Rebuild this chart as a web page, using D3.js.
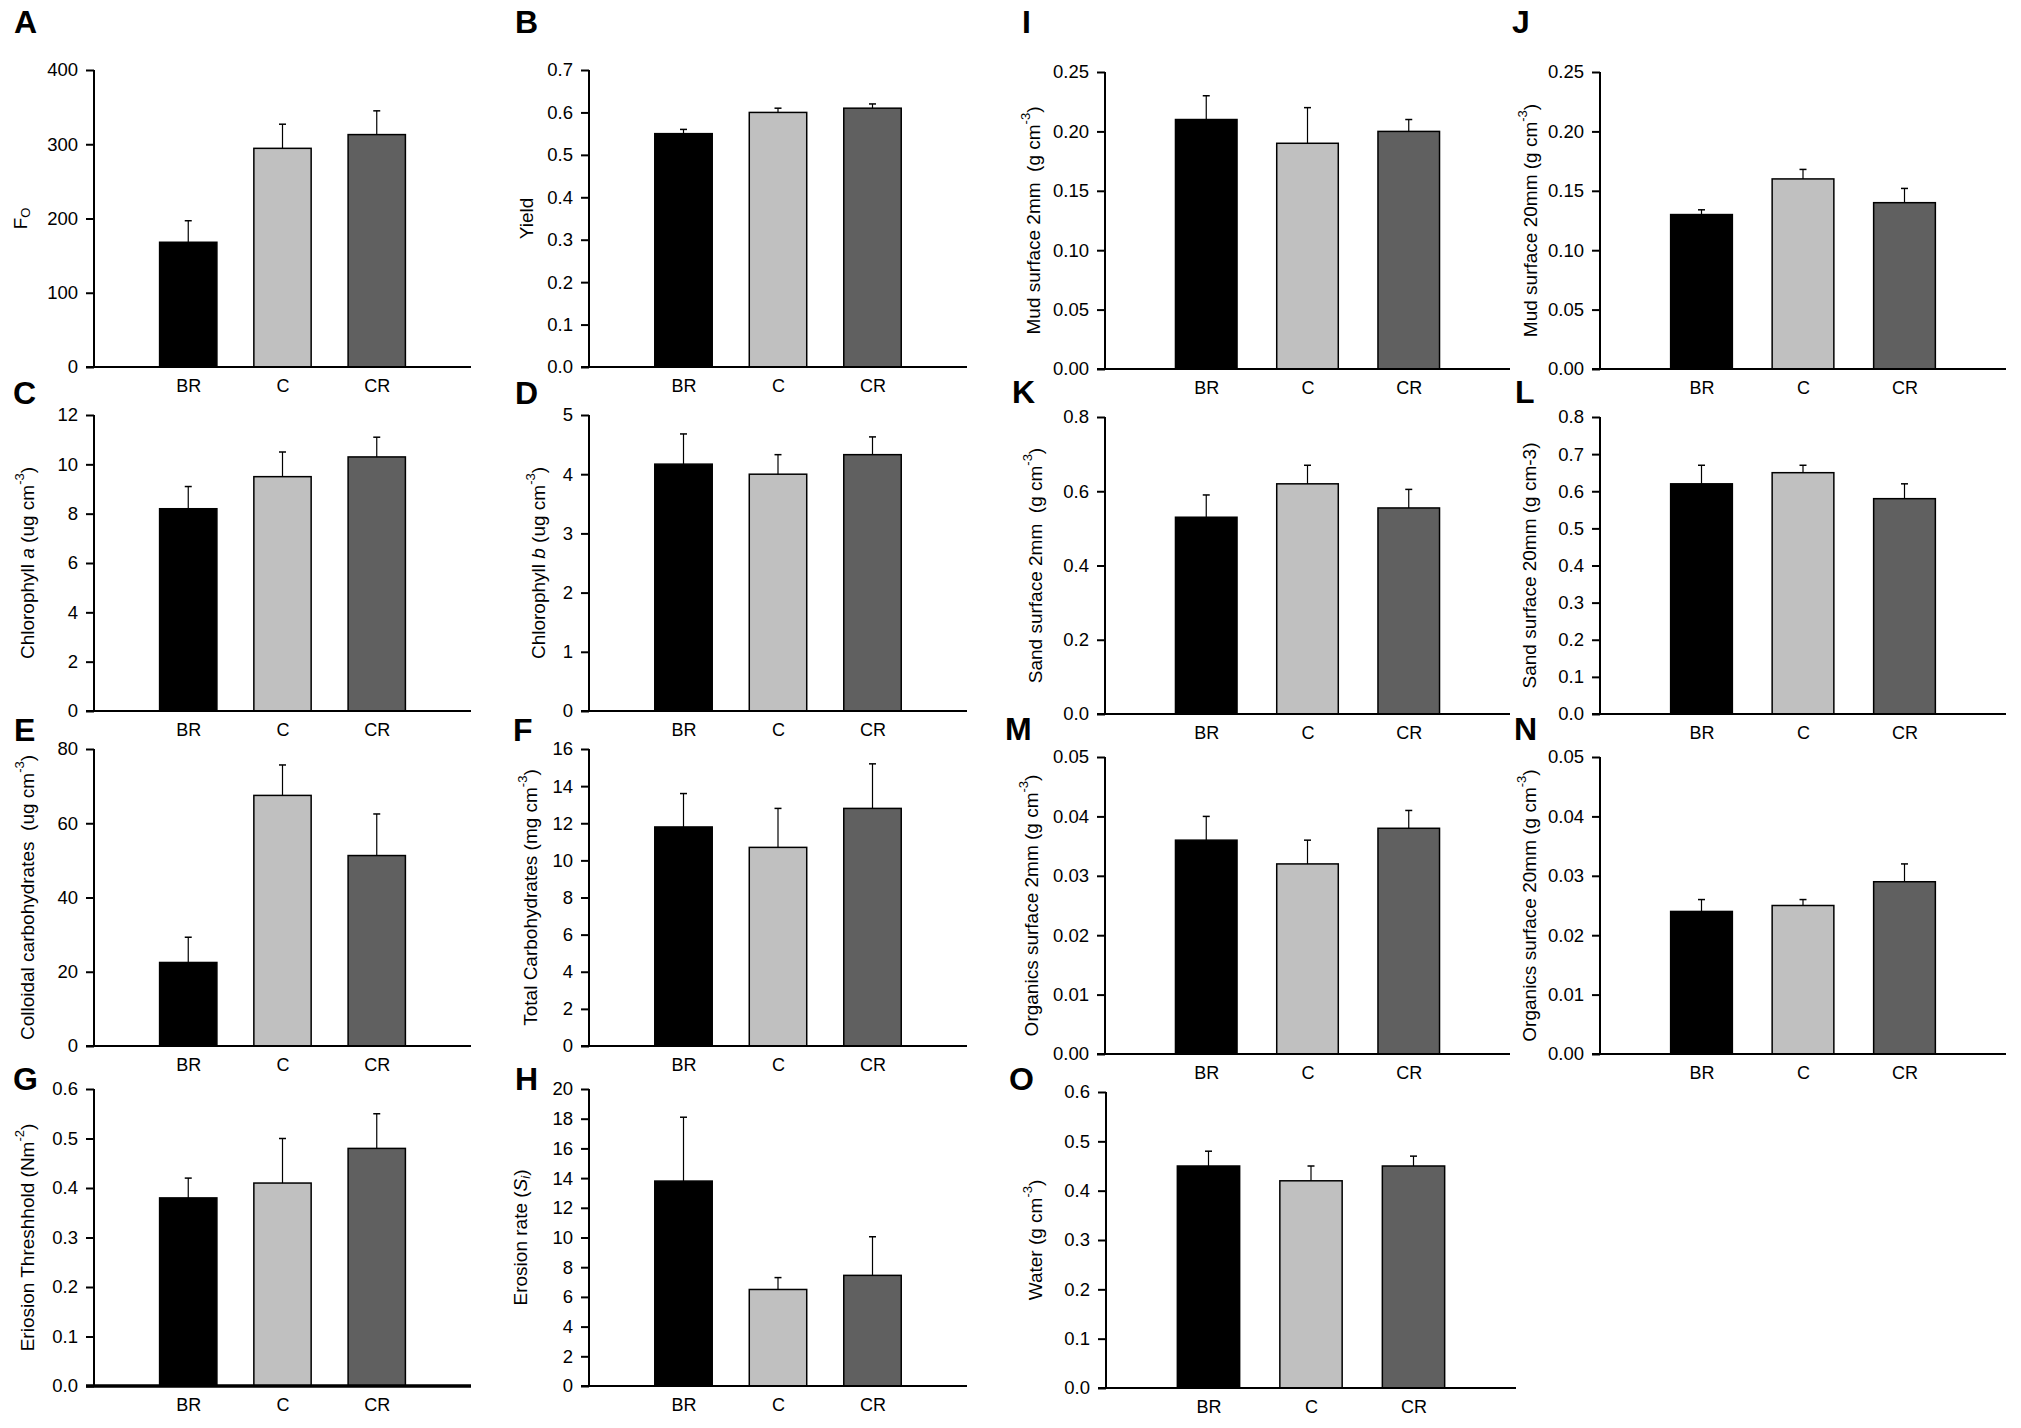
<!DOCTYPE html>
<html><head><meta charset="utf-8">
<script src="https://cdn.jsdelivr.net/npm/d3@7"></script>
<style>
html,body{margin:0;padding:0;background:#fff;}
text{font-family:"Liberation Sans",Arial,Helvetica,sans-serif;fill:#000;}
</style></head>
<body>
<svg id="fig" width="2021" height="1428"></svg>
<script>
// ---------- data ----------
const categories = ["BR", "C", "CR"];
const barColors = ["#000000", "#c0c0c0", "#606060"];

const foMean = [168, 294.5, 313];      const foSe = [29, 32.5, 32];
const yieldMean = [0.55, 0.60, 0.61];  const yieldSe = [0.01, 0.01, 0.01];
const chlaMean = [8.2, 9.5, 10.3];     const chlaSe = [0.9, 1.0, 0.8];
const chlbMean = [4.17, 4.0, 4.33];    const chlbSe = [0.51, 0.33, 0.30];
const collMean = [22.5, 67.5, 51.3];   const collSe = [6.8, 8.2, 11.2];
const totMean = [11.8, 10.7, 12.8];    const totSe = [1.8, 2.1, 2.4];
const thrMean = [0.38, 0.41, 0.48];    const thrSe = [0.04, 0.09, 0.07];
const eroMean = [13.8, 6.5, 7.45];     const eroSe = [4.3, 0.8, 2.6];
const mud2Mean = [0.21, 0.19, 0.20];   const mud2Se = [0.02, 0.03, 0.01];
const mud20Mean = [0.13, 0.16, 0.14];  const mud20Se = [0.004, 0.008, 0.012];
const sand2Mean = [0.53, 0.62, 0.555]; const sand2Se = [0.06, 0.05, 0.05];
const sand20Mean = [0.62, 0.65, 0.58]; const sand20Se = [0.05, 0.02, 0.04];
const org2Mean = [0.036, 0.032, 0.038];  const org2Se = [0.004, 0.004, 0.003];
const org20Mean = [0.024, 0.025, 0.029]; const org20Se = [0.002, 0.001, 0.003];
const waterMean = [0.45, 0.42, 0.45];  const waterSe = [0.03, 0.03, 0.02];

// tick values per panel
const ticksA = [0, 100, 200, 300, 400];
const ticksB = [0, 0.1, 0.2, 0.3, 0.4, 0.5, 0.6, 0.7];
const ticksC = [0, 2, 4, 6, 8, 10, 12];
const ticksD = [0, 1, 2, 3, 4, 5];
const ticksE = [0, 20, 40, 60, 80];
const ticksF = [0, 2, 4, 6, 8, 10, 12, 14, 16];
const ticksG = [0, 0.1, 0.2, 0.3, 0.4, 0.5, 0.6];
const ticksH = [0, 2, 4, 6, 8, 10, 12, 14, 16, 18, 20];
const ticksIJ = [0, 0.05, 0.10, 0.15, 0.20, 0.25];
const ticksK = [0, 0.2, 0.4, 0.6, 0.8];
const ticksL = [0, 0.1, 0.2, 0.3, 0.4, 0.5, 0.6, 0.7, 0.8];
const ticksMN = [0, 0.01, 0.02, 0.03, 0.04, 0.05];
const ticksO = [0, 0.1, 0.2, 0.3, 0.4, 0.5, 0.6];

// ---------- panel definitions ----------
const panels = [
  {L:"A", mean:foMean, se:foSe, ticks:ticksA, fmt:"d", title:[["F"],["O","sub"]]},
  {L:"B", mean:yieldMean, se:yieldSe, ticks:ticksB, fmt:".1f", title:[["Yield"]]},
  {L:"C", mean:chlaMean, se:chlaSe, ticks:ticksC, fmt:"d", title:[["Chlorophyll "],["a","i"],[" (ug cm"],["-3","sup"],[")"]]},
  {L:"D", mean:chlbMean, se:chlbSe, ticks:ticksD, fmt:"d", title:[["Chlorophyll "],["b","i"],[" (ug cm"],["-3","sup"],[")"]]},
  {L:"E", mean:collMean, se:collSe, ticks:ticksE, fmt:"d", title:[["Colloidal carbohydrates\u00a0 (ug cm"],["-3","sup"],[")"]]},
  {L:"F", mean:totMean, se:totSe, ticks:ticksF, fmt:"d", title:[["Total Carbohydrates (mg cm"],["-3","sup"],[")"]]},
  {L:"G", mean:thrMean, se:thrSe, ticks:ticksG, fmt:".1f", title:[["Eriosion Threshhold (Nm"],["-2","sup"],[")"]]},
  {L:"H", mean:eroMean, se:eroSe, ticks:ticksH, fmt:"d", title:[["Erosion rate ("],["S","i"],["i","isub"],[")"]]},
  {L:"I", mean:mud2Mean, se:mud2Se, ticks:ticksIJ, fmt:".2f", title:[["Mud surface 2mm\u00a0 (g cm"],["-3","sup"],[")"]]},
  {L:"J", mean:mud20Mean, se:mud20Se, ticks:ticksIJ, fmt:".2f", title:[["Mud surface 20mm (g cm"],["-3","sup"],[")"]]},
  {L:"K", mean:sand2Mean, se:sand2Se, ticks:ticksK, fmt:".1f", title:[["Sand surface 2mm\u00a0 (g cm"],["-3","sup"],[")"]]},
  {L:"L", mean:sand20Mean, se:sand20Se, ticks:ticksL, fmt:".1f", title:[["Sand surface 20mm (g cm-3)"]]},
  {L:"M", mean:org2Mean, se:org2Se, ticks:ticksMN, fmt:".2f", title:[["Organics surface 2mm (g cm"],["-3","sup"],[")"]]},
  {L:"N", mean:org20Mean, se:org20Se, ticks:ticksMN, fmt:".2f", title:[["Organics surface 20mm (g cm"],["-3","sup"],[")"]]},
  {L:"O", mean:waterMean, se:waterSe, ticks:ticksO, fmt:".1f", title:[["Water (g cm"],["-3","sup"],[")"]]}
];

// ---------- layout (pixels) ----------
const layout = {
  A:{x0:94, x1:471, y0:70, y1:367, lx:14, ly:33, toff:72},
  B:{x0:589, x1:967, y0:70, y1:367, lx:515, ly:33, toff:61},
  C:{x0:94, x1:471, y0:415, y1:711, lx:13, ly:404, toff:65},
  D:{x0:589, x1:967, y0:415, y1:711, lx:515, ly:404, toff:49},
  E:{x0:94, x1:471, y0:749, y1:1046, lx:14, ly:741, toff:65},
  F:{x0:589, x1:967, y0:749, y1:1046, lx:513, ly:741, toff:57},
  G:{x0:94, x1:471, y0:1089, y1:1386, lx:13, ly:1090, toff:65, axisW:3.5},
  H:{x0:589, x1:967, y0:1089, y1:1386, lx:515, ly:1090, toff:67},
  I:{x0:1105, x1:1510, y0:72, y1:369, lx:1022, ly:33, toff:70},
  J:{x0:1600, x1:2006, y0:72, y1:369, lx:1512, ly:33, toff:68},
  K:{x0:1105, x1:1510, y0:417, y1:714, lx:1012, ly:403, toff:68},
  L:{x0:1600, x1:2006, y0:417, y1:714, lx:1515, ly:403, toff:69},
  M:{x0:1105, x1:1510, y0:757, y1:1054, lx:1005, ly:740, toff:72},
  N:{x0:1600, x1:2006, y0:757, y1:1054, lx:1514, ly:740, toff:69},
  O:{x0:1106, x1:1516, y0:1092, y1:1388, lx:1009, ly:1090, toff:69}
};

const FONT = '"Liberation Sans",Arial,sans-serif';
const svg = d3.select("#fig");
svg.append("rect").attr("width", 2021).attr("height", 1428).attr("fill", "#fff");

panels.forEach(p => {
  const g = layout[p.L];
  const W = g.x1 - g.x0;
  const H = g.y1 - g.y0;
  const top = p.ticks[p.ticks.length - 1];
  const x = d3.scalePoint().domain(categories).range([0, W]).padding(1);
  const y = d3.scaleLinear().domain([0, top]).range([H, 0]);
  const bw = W * 0.152;
  const color = d3.scaleOrdinal().domain(categories).range(barColors);

  const pg = svg.append("g").attr("transform", `translate(${g.x0},${g.y0})`);

  // bars
  const rows = categories.map((c, i) => ({c, m: p.mean[i], s: p.se[i]}));
  pg.selectAll("rect.bar").data(rows).enter().append("rect")
    .attr("x", d => x(d.c) - bw / 2)
    .attr("y", d => y(d.m))
    .attr("width", bw)
    .attr("height", d => y(0) - y(d.m))
    .attr("fill", d => color(d.c))
    .attr("stroke", "#000").attr("stroke-width", 1.5);

  // error bars (upper)
  pg.selectAll("line.err").data(rows).enter().append("line")
    .attr("x1", d => x(d.c)).attr("x2", d => x(d.c))
    .attr("y1", d => y(d.m)).attr("y2", d => y(d.m + d.s))
    .attr("stroke", "#000").attr("stroke-width", 1.2);
  pg.selectAll("line.cap").data(rows).enter().append("line")
    .attr("x1", d => x(d.c) - 3.5).attr("x2", d => x(d.c) + 3.5)
    .attr("y1", d => y(d.m + d.s)).attr("y2", d => y(d.m + d.s))
    .attr("stroke", "#000").attr("stroke-width", 1.5);

  // y axis
  const yAxis = d3.axisLeft(y).tickValues(p.ticks).tickSize(8).tickPadding(8)
    .tickFormat(d3.format(p.fmt));
  const ya = pg.append("g").call(yAxis);
  ya.select(".domain").attr("stroke-width", 2).attr("d", `M0,${H + 1}V0`);
  ya.selectAll(".tick line").attr("stroke-width", 2);
  ya.selectAll(".tick text").attr("font-size", 18.5).attr("font-family", FONT).attr("fill", "#000");

  // x axis
  const xAxis = d3.axisBottom(x).tickSize(0).tickPadding(12);
  const xa = pg.append("g").attr("transform", `translate(0,${H})`).call(xAxis);
  xa.select(".domain").attr("stroke-width", g.axisW || 2).attr("d", `M-8,0H${W}`);
  xa.selectAll(".tick text").attr("font-size", 18).attr("font-family", FONT).attr("fill", "#000");

  // y title
  const t = pg.append("text")
    .attr("transform", `translate(${-g.toff},${H / 2}) rotate(-90)`)
    .attr("text-anchor", "middle").attr("dominant-baseline", "middle")
    .attr("font-size", 19);
  p.title.forEach(([txt, st], i) => {
    const ts = t.append("tspan").text(txt);
    const prev = i > 0 ? p.title[i - 1][1] : null;
    if (st === "i") ts.attr("font-style", "italic");
    if (st === "sup") ts.attr("font-size", 13).attr("dy", -8);
    if (st === "sub") ts.attr("font-size", 13).attr("dy", 5);
    if (st === "isub") ts.attr("font-size", 13).attr("dy", 5).attr("font-style", "italic");
    if (!st && prev === "sup") ts.attr("dy", 8);
    if (!st && (prev === "sub" || prev === "isub")) ts.attr("dy", -5);
  });

  // panel letter
  svg.append("text").attr("x", g.lx).attr("y", g.ly)
    .attr("font-size", 32).attr("font-weight", "bold").text(p.L);
});
</script>
</body></html>
